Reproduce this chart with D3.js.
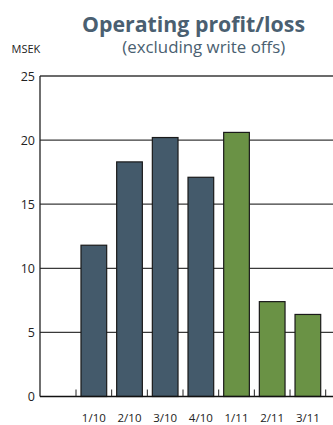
<!DOCTYPE html>
<html><head><meta charset="utf-8">
<script src="https://cdn.jsdelivr.net/npm/d3@7"></script>
<style>html,body{margin:0;padding:0;background:#fff;}svg{display:block;}</style>
</head><body>
<svg id="c" width="333" height="425"></svg>
<script>
const categories = ["1/10","2/10","3/10","4/10","1/11","2/11","3/11"];
const values = [11.8, 18.3, 20.2, 17.1, 20.6, 7.4, 6.4];
const years = ["2010","2010","2010","2010","2011","2011","2011"];
const yTicks = [0,5,10,15,20,25];
const titleText = "Operating profit/loss";
const subtitleText = "(excluding write offs)";
const unitText = "MSEK";

(function(){
const colorByYear = {"2010":"#445a6b","2011":"#6a9245"};
const svg = d3.select("#c");
const mLeft = 40, mRight = 333, mTop = 76, mBottom = 396.5;
const font = "'Open Sans', Lato, sans-serif";

const y = d3.scaleLinear().domain([0,25]).range([mBottom, mTop]);
const x = d3.scaleBand().domain(categories).range([76, 325.7]).paddingInner(0.28).paddingOuter(0.14);
const step = x.step();

// gridlines
svg.append("g").selectAll("line").data(yTicks.filter(d=>d>0)).join("line")
  .attr("x1", mLeft).attr("x2", mRight)
  .attr("y1", d=>y(d)).attr("y2", d=>y(d))
  .attr("stroke", "#3a3a3a").attr("stroke-width", 1.3);

// bars
svg.append("g").selectAll("rect").data(categories).join("rect")
  .attr("x", d=>x(d)).attr("width", x.bandwidth())
  .attr("y", (d,i)=>y(values[i])).attr("height", (d,i)=>y(0)-y(values[i]))
  .attr("fill", (d,i)=>colorByYear[years[i]])
  .attr("stroke", "#1a1a1a").attr("stroke-width", 1.2);

// y axis line
svg.append("line").attr("x1", mLeft).attr("x2", mLeft).attr("y1", mTop).attr("y2", mBottom)
  .attr("stroke", "#222").attr("stroke-width", 1.3);
// x axis line
svg.append("line").attr("x1", mLeft).attr("x2", mRight).attr("y1", mBottom).attr("y2", mBottom)
  .attr("stroke", "#111").attr("stroke-width", 1.6);

// x ticks at band boundaries
const boundaries = categories.map(d=>x(d) - step*x.paddingInner()/2);
boundaries.push(x(categories[categories.length-1]) + x.bandwidth() + step*x.paddingInner()/2);
svg.append("g").selectAll("line").data(boundaries).join("line")
  .attr("x1", d=>d).attr("x2", d=>d).attr("y1", mBottom).attr("y2", mBottom-7)
  .attr("stroke", "#222").attr("stroke-width", 1);

// y tick labels
svg.append("g").selectAll("text").data(yTicks).join("text")
  .attr("x", mLeft-5).attr("y", d=>y(d)).attr("dy", "0.36em")
  .attr("text-anchor", "end").attr("font-family", font)
  .attr("font-size", 12.5).attr("fill", "#222").text(d=>d);

// x labels
svg.append("g").selectAll("text").data(categories).join("text")
  .attr("x", d=>x(d)+x.bandwidth()/2).attr("y", 422)
  .attr("text-anchor", "middle").attr("font-family", font)
  .attr("font-size", 11.5).attr("fill", "#222").text(d=>d);

// titles
svg.append("text").attr("x", 193.5).attr("y", 32).attr("text-anchor", "middle")
  .attr("font-family", font).attr("font-weight", "bold")
  .attr("font-size", 22).attr("fill", "#4a5f71")
  .attr("textLength", 223).attr("lengthAdjust", "spacingAndGlyphs").text(titleText);
svg.append("text").attr("x", 203.7).attr("y", 53).attr("text-anchor", "middle")
  .attr("font-family", font)
  .attr("font-size", 15.5).attr("fill", "#4a5f71")
  .attr("textLength", 163).attr("lengthAdjust", "spacingAndGlyphs").text(subtitleText);
svg.append("text").attr("x", 11.5).attr("y", 53)
  .attr("font-family", font)
  .attr("font-size", 11).attr("fill", "#222").text(unitText);
})();
</script>
</body></html>
